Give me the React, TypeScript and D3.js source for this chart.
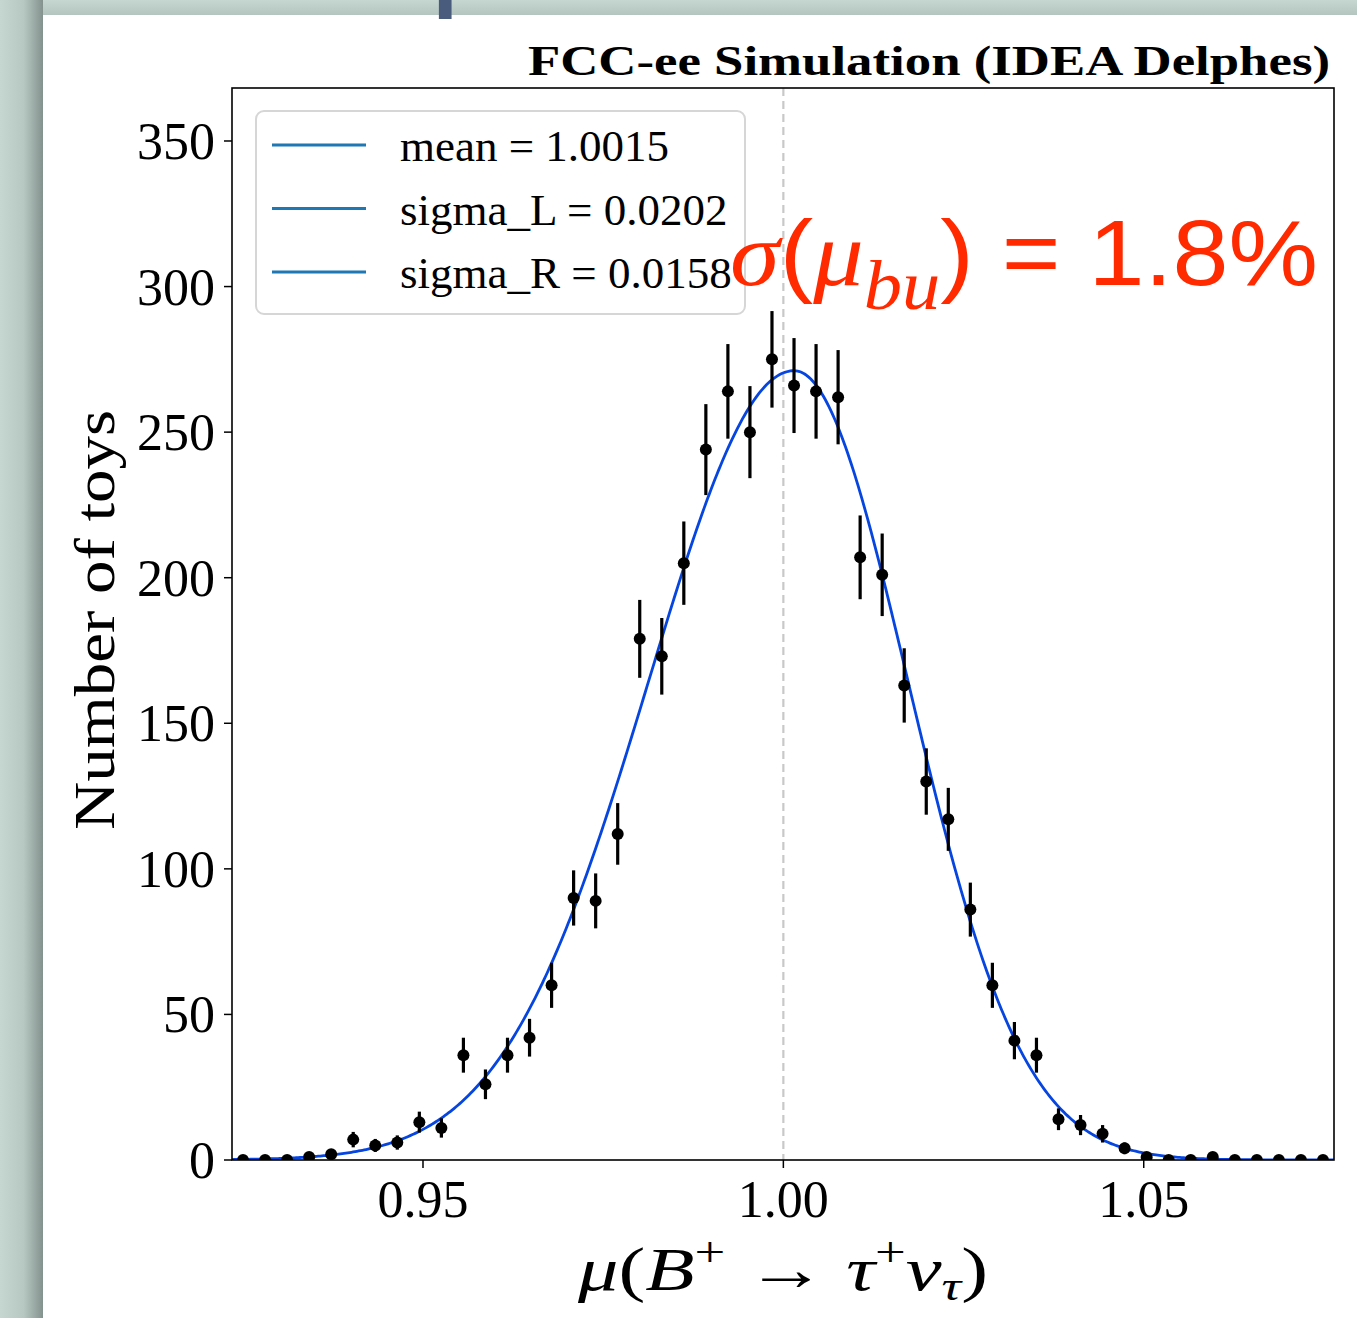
import React from "react";
import * as d3 from "d3";

// histogram of toy fits: 50 bins spanning the x range
const histRange = [0.9235, 1.0764];
const counts = [
  0, 0, 0, 1, 2, 7, 5, 6, 13, 11,
  36, 26, 36, 42, 60, 90, 89, 112, 179, 173,
  205, 244, 264, 250, 275, 266, 264, 262, 207, 201,
  163, 130, 117, 86, 60, 41, 36, 14, 12, 9,
  4, 1, 0, 0, 1, 0, 0, 0, 0, 0,
];

// bifurcated gaussian fit (legend values)
const fitMean = 1.0015;
const fitSigmaL = 0.0202;
const fitSigmaR = 0.0158;

const yTicks = [0, 50, 100, 150, 200, 250, 300, 350];
const xTicks = [0.95, 1.0, 1.05];
const xTickLabels = ["0.95", "1.00", "1.05"];
const legendLabels = ["mean = 1.0015", "sigma_L = 0.0202", "sigma_R = 0.0158"];

const W = 1357;
const H = 1318;
const margin = { top: 88, right: 23, bottom: 158, left: 232 };
const serif = "'Liberation Serif', 'DejaVu Serif', serif";
const sans = "'Liberation Sans', Arial, sans-serif";

const App = () => {
  const x = d3
    .scaleLinear()
    .domain(histRange)
    .range([margin.left, W - margin.right]);
  const y = d3
    .scaleLinear()
    .domain([0, 368.2])
    .range([H - margin.bottom, margin.top]);

  const nBins = counts.length;
  const binW = (histRange[1] - histRange[0]) / nBins;
  const pts = counts.map((c, i) => ({ x: histRange[0] + (i + 0.5) * binW, n: c }));
  const total = d3.sum(counts);
  const amp = (total * binW) / (Math.sqrt(2 * Math.PI) * (fitSigmaL + fitSigmaR) / 2);
  const fit = (v) => {
    const s = v < fitMean ? fitSigmaL : fitSigmaR;
    return amp * Math.exp(-0.5 * ((v - fitMean) / s) ** 2);
  };
  const fitPts = d3.range(0, 601).map((i) => {
    const v = histRange[0] + ((histRange[1] - histRange[0]) * i) / 600;
    return [v, fit(v)];
  });
  const line = d3
    .line()
    .x((d) => x(d[0]))
    .y((d) => y(d[1]));

  const x0 = margin.left;
  const x1 = W - margin.right;
  const y0 = H - margin.bottom;
  const y1 = margin.top;

  return (
    <svg
      width={W}
      height={H}
      style={{ position: "absolute", left: 0, top: 0, display: "block" }}
    >
      <defs>
        <linearGradient id="leftBand" x1="0" y1="0" x2="1" y2="0">
          <stop offset="0" stopColor="#c6d7d2" />
          <stop offset="0.55" stopColor="#b7c8c3" />
          <stop offset="1" stopColor="#84928e" />
        </linearGradient>
        <linearGradient id="topBand" x1="0" y1="0" x2="0" y2="1">
          <stop offset="0" stopColor="#c6d6d1" />
          <stop offset="1" stopColor="#b4c4be" />
        </linearGradient>
        <clipPath id="plotClip">
          <rect x={x0} y={y1} width={x1 - x0} height={y0 - y1} />
        </clipPath>
      </defs>

      {/* slide background, slide title cut off at the top */}
      <rect x={0} y={0} width={W} height={15} fill="url(#topBand)" />
      <rect x={0} y={0} width={43} height={H} fill="url(#leftBand)" />
      <rect x={43} y={15} width={W - 43} height={H - 15} fill="#ffffff" />
      <text
        x={-7}
        y={-1}
        fontFamily="'Open Sans', sans-serif"
        fontWeight="bold"
        fontSize={85}
        fill="#4a5c7e"
      >
        Results of pseudo-data
      </text>

      {/* title */}
      <text
        x={1330}
        y={75}
        textAnchor="end"
        fontFamily={serif}
        fontWeight="bold"
        fontSize={43}
        textLength={802}
        lengthAdjust="spacingAndGlyphs"
      >
        FCC-ee Simulation (IDEA Delphes)
      </text>

      {/* mean reference line */}
      <line
        x1={x(1.0)}
        x2={x(1.0)}
        y1={y1}
        y2={y0}
        stroke="#c8c8c8"
        strokeWidth={2.2}
        strokeDasharray="8,5"
      />

      {/* fit curve */}
      <path
        d={line(fitPts)}
        fill="none"
        stroke="#0645e0"
        strokeWidth={2.8}
        clipPath="url(#plotClip)"
      />

      {/* data points */}
      <g clipPath="url(#plotClip)">
        {pts.map((p, i) => (
          <g key={i}>
            {p.n > 0 && (
              <line
                x1={x(p.x)}
                x2={x(p.x)}
                y1={y(p.n - Math.sqrt(p.n))}
                y2={y(p.n + Math.sqrt(p.n))}
                stroke="#000"
                strokeWidth={3.2}
              />
            )}
            <circle cx={x(p.x)} cy={y(p.n)} r={6} fill="#000" />
          </g>
        ))}
      </g>

      {/* axes frame */}
      <rect
        x={x0}
        y={y1}
        width={x1 - x0}
        height={y0 - y1}
        fill="none"
        stroke="#000"
        strokeWidth={1.6}
      />

      {/* y ticks */}
      {yTicks.map((t) => (
        <g key={t}>
          <line x1={x0 - 8} x2={x0} y1={y(t)} y2={y(t)} stroke="#000" strokeWidth={1.5} />
          <text
            x={x0 - 17}
            y={y(t) + 18}
            textAnchor="end"
            fontFamily={serif}
            fontSize={52}
          >
            {t}
          </text>
        </g>
      ))}

      {/* x ticks */}
      {xTicks.map((t, i) => (
        <g key={t}>
          <line x1={x(t)} x2={x(t)} y1={y0} y2={y0 + 8} stroke="#000" strokeWidth={1.5} />
          <text
            x={x(t)}
            y={y0 + 57}
            textAnchor="middle"
            fontFamily={serif}
            fontSize={52}
          >
            {xTickLabels[i]}
          </text>
        </g>
      ))}

      {/* axis labels */}
      <text
        x={783}
        y={1290}
        textAnchor="middle"
        fontFamily={serif}
        fontSize={62}
        textLength={410}
        lengthAdjust="spacingAndGlyphs"
      >
        <tspan fontStyle="italic">μ</tspan>
        <tspan>(</tspan>
        <tspan fontStyle="italic">B</tspan>
        <tspan fontSize={42} dy={-24}>+</tspan>
        <tspan dy={24}> → </tspan>
        <tspan fontStyle="italic">τ</tspan>
        <tspan fontSize={42} dy={-24}>+</tspan>
        <tspan fontStyle="italic" dy={24}>ν</tspan>
        <tspan fontStyle="italic" fontSize={42} dy={10}>τ</tspan>
        <tspan dy={-10}>)</tspan>
      </text>
      <text
        transform="translate(114,620) rotate(-90)"
        textAnchor="middle"
        fontFamily={serif}
        fontSize={56}
        textLength={420}
        lengthAdjust="spacingAndGlyphs"
      >
        Number of toys
      </text>

      {/* legend */}
      <rect
        x={256}
        y={111}
        width={489}
        height={203}
        rx={8}
        fill="#fff"
        stroke="#d6d6d6"
        strokeWidth={2}
      />
      {legendLabels.map((l, i) => (
        <g key={l}>
          <line
            x1={272}
            x2={366}
            y1={145 + i * 63.5}
            y2={145 + i * 63.5}
            stroke="#1f77b4"
            strokeWidth={3}
          />
          <text x={400} y={161 + i * 63.5} fontFamily={serif} fontSize={45}>
            {l}
          </text>
        </g>
      ))}

      {/* annotation */}
      <text
        x={730}
        y={285}
        fill="#ff2a00"
        fontSize={92}
        fontFamily={sans}
        textLength={588}
        lengthAdjust="spacingAndGlyphs"
      >
        <tspan fontFamily={serif} fontStyle="italic">σ</tspan>
        <tspan>(</tspan>
        <tspan fontFamily={serif} fontStyle="italic">μ</tspan>
        <tspan fontFamily={serif} fontStyle="italic" fontSize={70} dy={24}>bu</tspan>
        <tspan dy={-24}>) = 1.8%</tspan>
      </text>
    </svg>
  );
};

export default App;
